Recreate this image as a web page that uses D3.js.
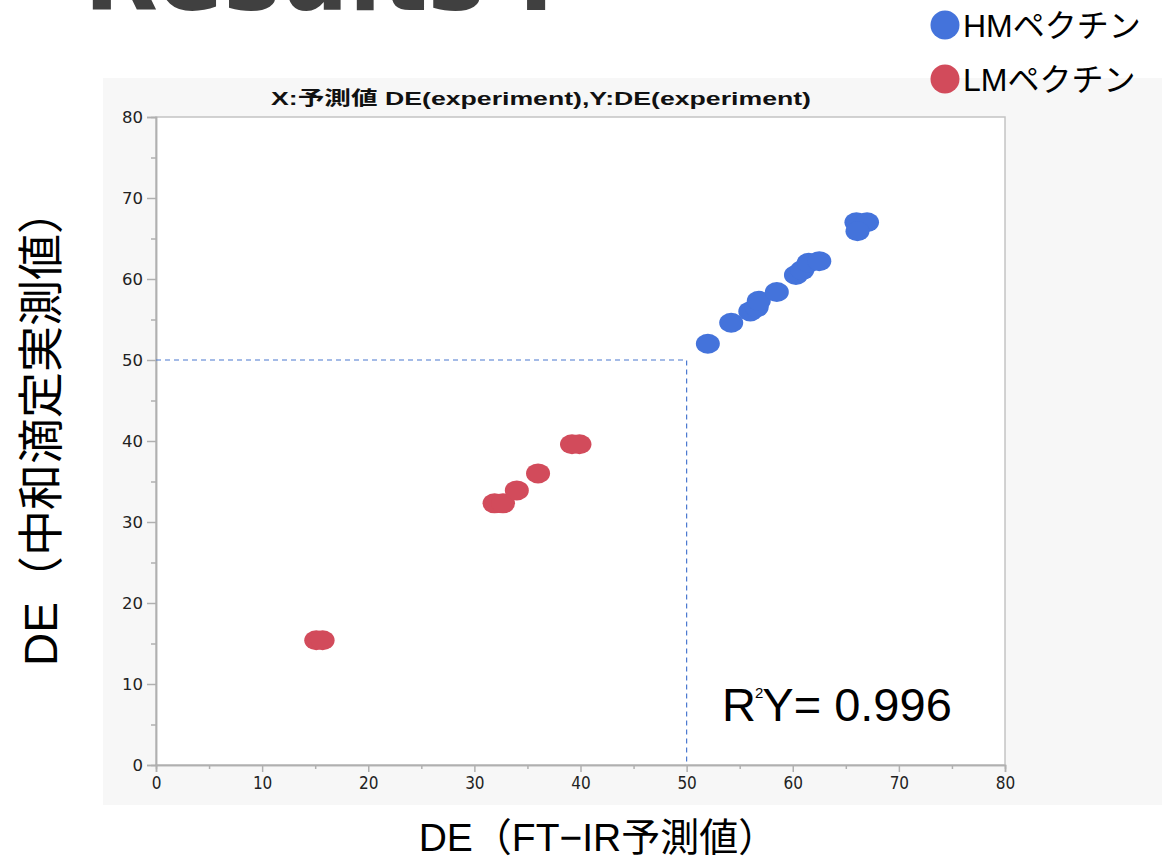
<!DOCTYPE html>
<html>
<head>
<meta charset="utf-8">
<script src="https://cdn.jsdelivr.net/npm/d3@7"></script>
<style>
  html, body { margin: 0; padding: 0; background: #fff; }
  svg { display: block; }
</style>
</head>
<body>
<svg id="chart" width="1162" height="859"></svg>
<script>
// HM pectin (blue) : FT-IR predicted DE vs titration DE
const hmPred = [52.0, 54.2, 56.0, 56.6, 56.8, 58.5, 60.3, 60.9, 61.5, 62.5, 66.0, 67.0, 66.1];
const hmMeas = [52.0, 54.6, 56.0, 56.5, 57.3, 58.4, 60.5, 61.1, 62.0, 62.2, 67.0, 67.0, 65.9];
// LM pectin (red)
const lmPred = [15.1, 15.7, 31.9, 32.7, 34.0, 36.0, 39.2, 39.9];
const lmMeas = [15.4, 15.4, 32.3, 32.3, 33.9, 36.0, 39.6, 39.6];

const majorTicks = [0, 10, 20, 30, 40, 50, 60, 70, 80];
const minorTicks = [5, 15, 25, 35, 45, 55, 65, 75];
const cutoff = 50;
const r2Label = "0.996";
const legendNames = ["HMペクチン", "LMペクチン"];
const chartTitle = "X:予測値 DE(experiment),Y:DE(experiment)";

const blue = "#4473db";
const red = "#d24b5b";

const svg = d3.select("#chart");

// big slide title, mostly cut off at the top
svg.append("text")
    .attr("x", 84).attr("y", 10)
    .attr("font-family", "DejaVu Sans")
    .attr("font-weight", "bold")
    .attr("font-size", 96)
    .attr("fill", "#404040")
    .attr("textLength", 470)
    .attr("lengthAdjust", "spacingAndGlyphs")
    .text("Results I");

// gray JMP-like panel
svg.append("rect")
    .attr("x", 103).attr("y", 78)
    .attr("width", 1059).attr("height", 727)
    .attr("fill", "#f7f7f7");

const plot = { left: 156, top: 117, right: 1005, bottom: 765 };

const x = d3.scaleLinear().domain([0, 80]).range([plot.left, plot.right]);
const y = d3.scaleLinear().domain([0, 80]).range([plot.bottom, plot.top]);

svg.append("rect")
    .attr("x", plot.left).attr("y", plot.top)
    .attr("width", plot.right - plot.left).attr("height", plot.bottom - plot.top)
    .attr("fill", "#fff")
    .attr("stroke", "#c4c4c4")
    .attr("stroke-width", 1.5);

svg.append("text")
    .attr("x", 541).attr("y", 105)
    .attr("text-anchor", "middle")
    .attr("font-family", "Liberation Sans, Noto Sans CJK JP")
    .attr("font-weight", "bold")
    .attr("font-size", 19)
    .attr("fill", "#111")
    .attr("textLength", 540)
    .attr("lengthAdjust", "spacingAndGlyphs")
    .text(chartTitle);

// Axes
const yAxis = svg.append("g")
    .attr("transform", `translate(${plot.left},0)`)
    .call(d3.axisLeft(y).tickValues(majorTicks).tickSize(9).tickPadding(4));
const yMinor = svg.append("g")
    .attr("transform", `translate(${plot.left},0)`)
    .call(d3.axisLeft(y).tickValues(minorTicks).tickSize(5).tickFormat(""));

const xAxis = svg.append("g")
    .attr("transform", `translate(0,${plot.bottom})`)
    .call(d3.axisBottom(x).tickValues(majorTicks).tickSize(7).tickPadding(5));
const xMinor = svg.append("g")
    .attr("transform", `translate(0,${plot.bottom})`)
    .call(d3.axisBottom(x).tickValues(minorTicks).tickSize(4).tickFormat(""));

[yAxis, yMinor, xAxis, xMinor].forEach(g => {
    g.select(".domain").attr("stroke", "#b0b0b0").attr("stroke-width", 1.5);
    g.selectAll(".tick line").attr("stroke", "#b0b0b0").attr("stroke-width", 1.5);
});
yAxis.selectAll(".tick text")
    .attr("font-family", "DejaVu Sans")
    .attr("font-size", 16.5)
    .attr("fill", "#222");
xAxis.selectAll(".tick text")
    .attr("font-family", "DejaVu Sans Condensed, DejaVu Sans")
    .attr("font-size", 17)
    .attr("fill", "#222");

// dashed cutoff guide at DE 50
const guide = d3.line().x(d => x(d[0])).y(d => y(d[1]));
svg.append("path")
    .attr("d", guide([[0, cutoff], [cutoff, cutoff], [cutoff, 0]]))
    .attr("fill", "none")
    .attr("stroke", "#4a78d0")
    .attr("stroke-width", 1.2)
    .attr("stroke-dasharray", "5,4");

// points
function drawPoints(px, py, color) {
    svg.append("g")
        .selectAll("ellipse")
        .data(px.map((v, i) => [v, py[i]]))
        .join("ellipse")
        .attr("cx", d => x(d[0]))
        .attr("cy", d => y(d[1]))
        .attr("rx", 12)
        .attr("ry", 10)
        .attr("fill", color);
}
drawPoints(lmPred, lmMeas, red);
drawPoints(hmPred, hmMeas, blue);

// R2Y annotation
const r2 = svg.append("text")
    .attr("x", 722).attr("y", 721)
    .attr("font-family", "Liberation Sans")
    .attr("font-size", 47)
    .attr("fill", "#000");
r2.append("tspan").text("R");
r2.append("tspan").attr("font-size", 15).attr("dy", -23).attr("dx", -1).text("2");
r2.append("tspan").attr("dy", 23).attr("dx", -1).text("Y= " + r2Label);

// axis titles
svg.append("text")
    .attr("transform", "translate(41,427) rotate(-90)")
    .attr("text-anchor", "middle")
    .attr("dominant-baseline", "central")
    .attr("font-family", "Liberation Sans, Noto Sans CJK JP")
    .attr("font-size", 46)
    .attr("fill", "#000")
    .text("DE（中和滴定実測値）");

svg.append("text")
    .attr("x", 598).attr("y", 837)
    .attr("text-anchor", "middle")
    .attr("dominant-baseline", "central")
    .attr("font-family", "Liberation Sans, Noto Sans CJK JP")
    .attr("font-size", 39)
    .attr("fill", "#000")
    .text("DE（FT−IR予測値）");

// legend
const legend = svg.append("g");
legendNames.forEach((name, i) => {
    const row = legend.append("g").attr("transform", `translate(0,${i * 54})`);
    row.append("circle")
        .attr("cx", 945).attr("cy", 25).attr("r", 14.5)
        .attr("fill", i === 0 ? blue : red);
    row.append("text")
        .attr("x", 963).attr("y", 37)
        .attr("font-family", "Liberation Sans, Noto Sans CJK JP")
        .attr("font-size", 32)
        .attr("fill", "#000")
        .text(name);
});
</script>
</body>
</html>
